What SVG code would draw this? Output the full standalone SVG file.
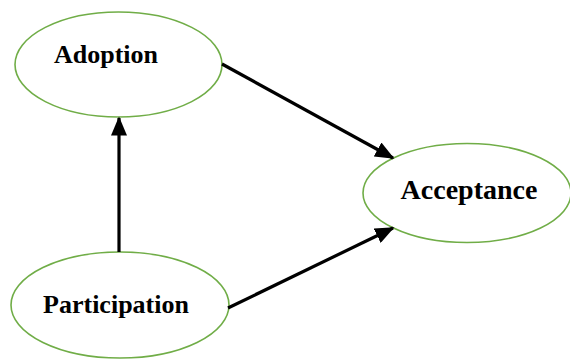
<svg xmlns="http://www.w3.org/2000/svg" width="570" height="361" viewBox="0 0 570 361">
<style>
.node{fill:#fff;stroke:#70AD47;stroke-width:1.6}
.lbl{font-family:"Liberation Serif","Times New Roman",serif;font-weight:bold;fill:#000;text-anchor:middle}
.edge{stroke:#000;stroke-width:3.2;fill:none;marker-end:url(#ah)}
</style>
<defs>
<marker id="ah" markerWidth="6" markerHeight="5" refX="5.5" refY="2.5" orient="auto" markerUnits="strokeWidth">
<path d="M0,0 L6,2.5 L0,5 Z" fill="#000"/>
</marker>
</defs>
<rect width="570" height="361" fill="#fff"/>
<g id="n-adoption">
<ellipse class="node" cx="118.5" cy="64.5" rx="103.5" ry="52.5"/>
<text class="lbl" x="106" y="63" font-size="26">Adoption</text>
</g>
<g id="n-acceptance">
<ellipse class="node" cx="467" cy="193" rx="104" ry="49.5"/>
<text class="lbl" x="469" y="199" font-size="28">Acceptance</text>
</g>
<g id="n-participation">
<ellipse class="node" cx="120" cy="305" rx="109" ry="53"/>
<text class="lbl" x="116" y="313" font-size="26">Participation</text>
</g>
<g id="edges">
<line class="edge" x1="222" y1="64" x2="393" y2="158"/>
<line class="edge" x1="228" y1="308" x2="393" y2="228"/>
<line class="edge" x1="119" y1="252" x2="119" y2="118"/>
</g>
</svg>
